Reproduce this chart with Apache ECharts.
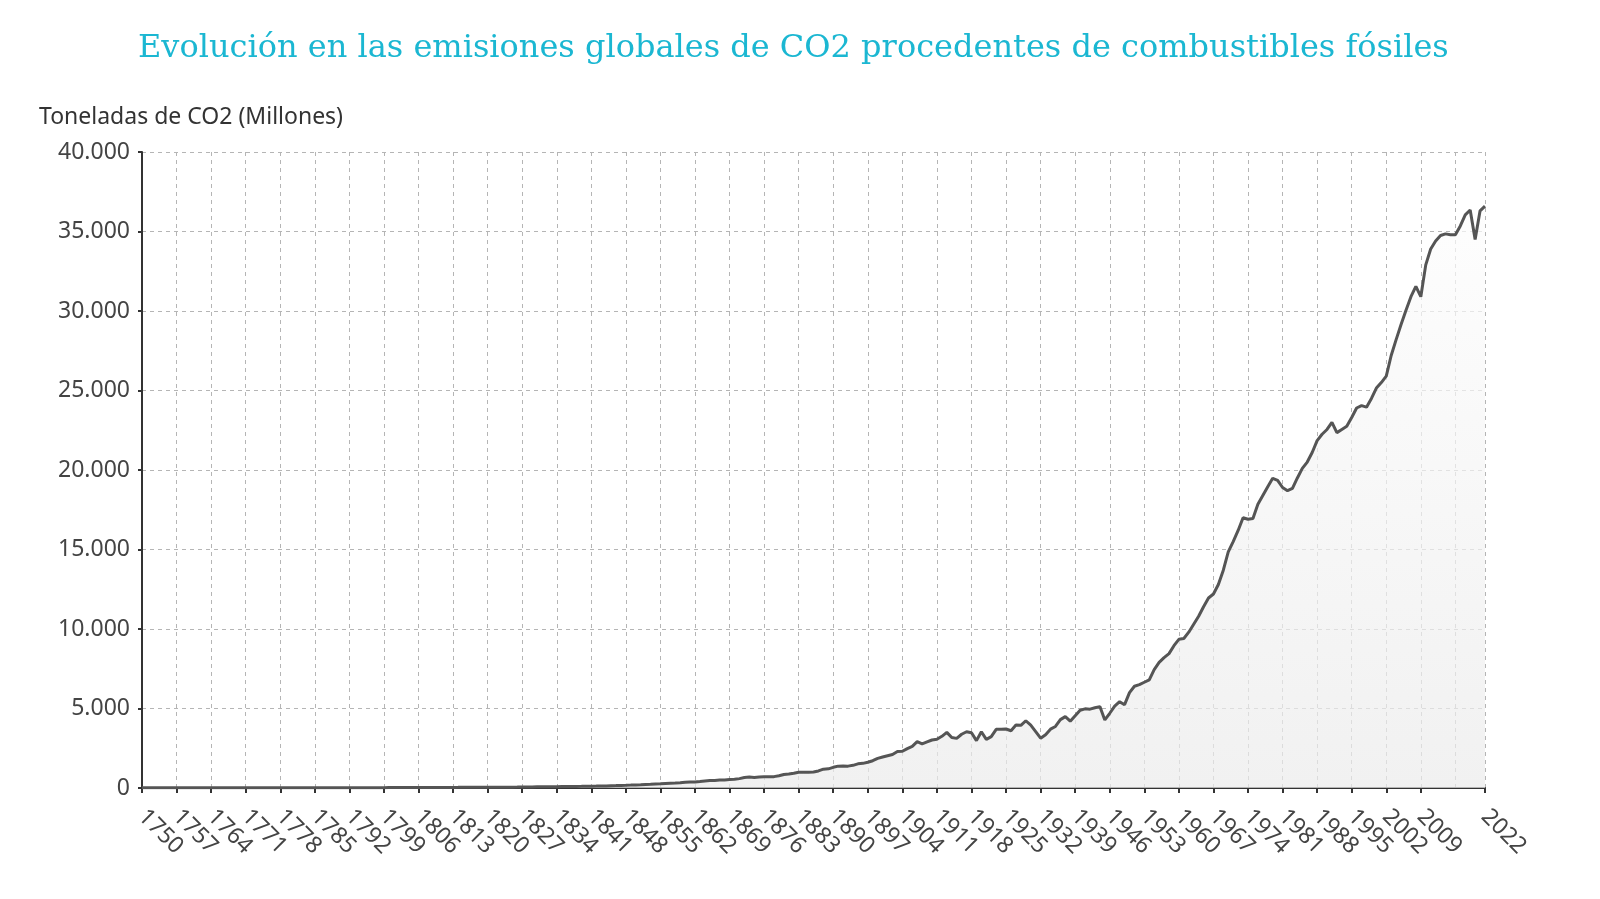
<!DOCTYPE html>
<html>
<head>
<meta charset="utf-8">
<title>Emisiones globales de CO2</title>
<script src="https://cdn.jsdelivr.net/npm/echarts@6/dist/echarts.min.js"></script>
<style>
    html, body { margin: 0; padding: 0; background: #fff; }
    #chart { width: 1600px; height: 899px; }
</style>
</head>
<body>
<div id="chart"></div>
<script>
// años 1750 - 2022 (categorias del eje x)
var years = [];
for (var y = 1750; y <= 2022; y++) {
    years.push(String(y));
}

// emisiones de CO2, millones de toneladas
var e1750 = [9, 9, 9, 9, 9, 9, 10, 10, 10, 10,
    10, 11, 11, 11, 11, 11, 11, 11, 11, 11,
    11, 11, 12, 12, 12, 13, 13, 13, 13, 13,
    14, 14, 14, 15, 15, 15, 16, 17, 17, 17,
    18, 19, 20, 20, 21, 21, 22, 22, 22, 23];
var e1800 = [28, 28, 31, 30, 33, 33, 34, 35, 35, 35,
    36, 37, 38, 38, 40, 43, 42, 42, 43, 44,
    44, 45, 47, 50, 52, 55, 56, 62, 64, 67,
    73, 73, 75, 78, 82, 87, 92, 97, 101, 105,
    110, 115, 118, 125, 132, 145, 150, 164, 170, 182];
var e1850 = [195, 200, 215, 230, 255, 265, 285, 300, 315, 335,
    360, 375, 380, 405, 440, 465, 475, 505, 510, 530,
    545, 590, 660, 690, 665, 690, 700, 710, 715, 770,
    850, 880, 930, 985, 990, 995, 1010, 1075, 1185, 1205,
    1300, 1375, 1380, 1375, 1425, 1520, 1550, 1620, 1715, 1860];
var e1900 = [1950, 2030, 2110, 2300, 2310, 2480, 2620, 2920, 2780, 2900,
    3020, 3070, 3250, 3500, 3170, 3120, 3380, 3540, 3480, 2980,
    3540, 3060, 3230, 3690, 3690, 3710, 3600, 3960, 3940, 4230,
    3950, 3550, 3130, 3350, 3700, 3870, 4300, 4490, 4200, 4550,
    4890, 4980, 4960, 5050, 5120, 4280, 4700, 5150, 5430, 5240];
var e1950 = [6000, 6400, 6500, 6650, 6800, 7450, 7900, 8200, 8450, 8950,
    9350, 9400, 9800, 10300, 10800, 11400, 11950, 12200, 12800, 13700,
    14850, 15500, 16200, 17000, 16900, 16950, 17850, 18400, 18950, 19480,
    19350, 18900, 18700, 18850, 19500, 20100, 20500, 21100, 21850, 22250,
    22550, 23000, 22350, 22550, 22750, 23300, 23900, 24050, 23950, 24500];
var e2000 = [25150, 25500, 25900, 27200, 28200, 29150, 30050, 30900, 31550, 30900,
    32900, 33900, 34400, 34750, 34850, 34800, 34800, 35350, 36050, 36350,
    34500, 36300, 36600];

var emisiones = [].concat(e1750, e1800, e1850, e1900, e1950, e2000);

// etiquetas cada 7 años (la de 2016 no sale), mas la ultima
function showLabel(i) {
    return (i % 7 === 0 && i < 266) || i === years.length - 1;
}
// lineas de rejilla cada 7 años, incluida 2016
function showGrid(i) {
    return i % 7 === 0 || i === years.length - 1;
}
// separador de miles con punto
function miles(v) {
    return String(v).replace(/\B(?=(\d{3})+(?!\d))/g, '.');
}

var chart = echarts.init(document.getElementById('chart'));

var option = {
    backgroundColor: '#fff',
    animation: false,
    title: [{
        text: 'Evolución en las emisiones globales de CO2 procedentes de combustibles fósiles',
        left: 133,
        top: 28,
        textStyle: {
            fontFamily: 'DejaVu Serif',
            fontWeight: 'normal',
            fontSize: 32,
            color: '#1bb7d2'
        }
    }, {
        text: 'Toneladas de CO2 (Millones)',
        left: 34,
        top: 101,
        textStyle: {
            fontFamily: 'Noto Sans',
            fontWeight: 'normal',
            fontSize: 23,
            color: '#333'
        }
    }],
    grid: {
        left: 142,
        right: 115,
        top: 152,
        bottom: 111
    },
    xAxis: {
        type: 'category',
        data: years,
        boundaryGap: false,
        axisLine: {
            lineStyle: { color: '#333', width: 2 }
        },
        axisTick: {
            interval: showLabel,
            length: 5,
            lineStyle: { color: '#333', width: 2 }
        },
        axisLabel: {
            interval: showLabel,
            rotate: -45,
            margin: 25,
            fontFamily: 'Noto Sans',
            fontSize: 23,
            color: '#444'
        },
        splitLine: {
            show: true,
            interval: showGrid,
            lineStyle: { color: '#b5b5b5', type: [4, 4], width: 1 }
        }
    },
    yAxis: {
        type: 'value',
        min: 0,
        max: 40000,
        interval: 5000,
        axisLine: {
            show: true,
            lineStyle: { color: '#333', width: 2 }
        },
        axisTick: {
            show: true,
            length: 4,
            lineStyle: { color: '#333', width: 2 }
        },
        axisLabel: {
            margin: 12,
            fontFamily: 'Noto Sans',
            fontSize: 23,
            color: '#444',
            formatter: miles
        },
        splitLine: {
            lineStyle: { color: '#b5b5b5', type: [4, 4], width: 1 }
        }
    },
    series: [{
        name: 'Emisiones CO2',
        type: 'line',
        data: emisiones,
        symbol: 'none',
        smooth: false,
        lineStyle: { color: '#555', width: 3 },
        areaStyle: {
            color: new echarts.graphic.LinearGradient(0, 0, 0, 1, [
                { offset: 0, color: '#fdfdfd' },
                { offset: 1, color: '#ebebeb' }
            ])
        }
    }]
};

chart.setOption(option);
</script>
</body>
</html>
